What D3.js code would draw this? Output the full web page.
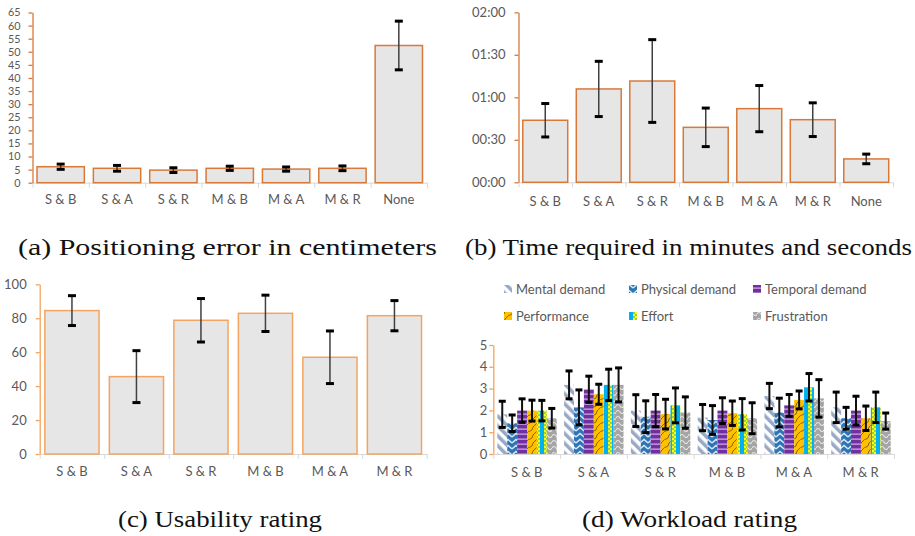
<!DOCTYPE html>
<html>
<head>
<meta charset="utf-8">
<script src="https://cdnjs.cloudflare.com/ajax/libs/d3/7.8.5/d3.min.js"></script>
<style>
  body { margin: 0; background: #fff; }
  text { font-family: Lato, "Liberation Sans", sans-serif; fill: #595959; }
  .caption { font-family: "Liberation Serif", serif; fill: #111; }
</style>
</head>
<body>
<svg id="fig" width="915" height="536"></svg>
<script>

// categories
var groups = ["S & B", "S & A", "S & R", "M & B", "M & A", "M & R", "None"];
var groupsSix = ["S & B", "S & A", "S & R", "M & B", "M & A", "M & R"];

// (a) positioning error in cm
var errorMean = [6.1, 5.5, 4.8, 5.5, 5.2, 5.5, 52.4];
var errorSd = [1.0, 1.1, 0.9, 0.8, 0.8, 0.9, 9.3];
var errorTicks = [0, 5, 10, 15, 20, 25, 30, 35, 40, 45, 50, 55, 60, 65];

// (b) time required in seconds
var timeMean = [43.8, 65.9, 71.5, 38.8, 52.0, 44.2, 16.5];
var timeSd = [11.8, 19.5, 29.2, 13.6, 16.3, 11.9, 3.4];
var timeTicks = [0, 30, 60, 90, 120];

// (c) usability rating
var usabMean = [84.5, 45.6, 78.8, 82.9, 57.0, 81.5];
var usabSd = [8.8, 15.3, 12.8, 10.7, 15.5, 8.9];
var usabTicks = [0, 20, 40, 60, 80, 100];

// (d) workload rating
var workloadSeries = ["Mental demand", "Physical demand", "Temporal demand", "Performance", "Effort", "Frustration"];
var mentalMean = [1.82, 3.17, 1.99, 1.67, 2.66, 2.14];
var mentalSd = [0.60, 0.64, 0.73, 0.60, 0.58, 0.70];
var physicalMean = [1.41, 2.14, 1.71, 1.56, 1.90, 1.64];
var physicalSd = [0.38, 0.80, 0.73, 0.66, 0.66, 0.50];
var temporalMean = [1.99, 2.97, 1.99, 1.99, 2.23, 1.99];
var temporalSd = [0.54, 0.60, 0.74, 0.59, 0.50, 0.66];
var performanceMean = [1.99, 2.74, 1.83, 1.87, 2.48, 1.64];
var performanceSd = [0.48, 0.46, 0.68, 0.56, 0.41, 0.56];
var effortMean = [1.99, 3.17, 2.23, 1.82, 3.06, 2.14];
var effortSd = [0.47, 0.72, 0.80, 0.72, 0.63, 0.70];
var frustrationMean = [1.64, 3.17, 1.90, 1.64, 2.55, 1.51];
var frustrationSd = [0.45, 0.78, 0.72, 0.71, 0.86, 0.37];
var workloadTicks = [0, 1, 2, 3, 4, 5];

var svg = d3.select("#fig");
var defs = svg.append("defs");

// hatch patterns for the workload bars
function makePatterns() {
  var p;

  p = defs.append("pattern").attr("id", "pat0").attr("patternUnits", "userSpaceOnUse")
    .attr("width", 7).attr("height", 7).attr("patternTransform", "rotate(-45)");
  p.append("rect").attr("width", 7).attr("height", 7).attr("fill", "#fff");
  p.append("rect").attr("width", 3.5).attr("height", 7).attr("fill", "#97a9c6");

  p = defs.append("pattern").attr("id", "pat1").attr("patternUnits", "userSpaceOnUse")
    .attr("width", 8).attr("height", 6);
  p.append("rect").attr("width", 8).attr("height", 6).attr("fill", "#2e75b6");
  p.append("path").attr("d", "M0,5 L4,1.5 L8,5").attr("fill", "none")
    .attr("stroke", "#dce9f7").attr("stroke-width", 1.4);

  p = defs.append("pattern").attr("id", "pat2").attr("patternUnits", "userSpaceOnUse")
    .attr("width", 8).attr("height", 5);
  p.append("rect").attr("width", 8).attr("height", 5).attr("fill", "#7030a0");
  p.append("rect").attr("y", 3.6).attr("width", 8).attr("height", 1).attr("fill", "#e8c9f5");

  p = defs.append("pattern").attr("id", "pat3").attr("patternUnits", "userSpaceOnUse")
    .attr("width", 8).attr("height", 8);
  p.append("rect").attr("width", 8).attr("height", 8).attr("fill", "#ffc000");
  p.append("path").attr("d", "M0,8 L4,6 L5,3 L8,0").attr("fill", "none")
    .attr("stroke", "#7f6000").attr("stroke-width", 0.9);

  p = defs.append("pattern").attr("id", "pat4").attr("patternUnits", "userSpaceOnUse")
    .attr("width", 8).attr("height", 4);
  p.append("rect").attr("width", 8).attr("height", 4).attr("fill", "#00b0f0");
  p.append("rect").attr("width", 4).attr("height", 4).attr("fill", "#ffff00");
  p.append("rect").attr("width", 2).attr("height", 2).attr("fill", "#92d050");
  p.append("rect").attr("x", 2).attr("y", 2).attr("width", 2).attr("height", 2).attr("fill", "#92d050");

  p = defs.append("pattern").attr("id", "pat5").attr("patternUnits", "userSpaceOnUse")
    .attr("width", 8).attr("height", 6);
  p.append("rect").attr("width", 8).attr("height", 6).attr("fill", "#a5a5a5");
  p.append("path").attr("d", "M0,4 Q2,1 4,4 T8,4").attr("fill", "none")
    .attr("stroke", "#e6e6e6").attr("stroke-width", 1.1);
}
makePatterns();

// draw axes for one panel, returns the scales
function drawAxes(box, cats, yMax, ticks, fmt, axisColor, labelGap, catPad, ySize) {
  var yScale = d3.scaleLinear().domain([0, yMax]).range([box.bottom, box.top]);
  var xScale = d3.scaleBand().domain(cats).range([box.left, box.right])
    .paddingInner(0.16).paddingOuter(0.08);
  var xEdges = d3.scaleLinear().domain([0, cats.length]).range([box.left, box.right]);

  // x axis: grey line, ticks between categories
  var xg = svg.append("g")
    .attr("transform", "translate(0," + box.bottom + ")")
    .call(d3.axisBottom(xEdges).tickValues(d3.range(cats.length + 1)).tickFormat("").tickSize(5).tickSizeOuter(0));
  xg.select(".domain").attr("stroke", "#d9d9d9");
  xg.selectAll(".tick line").attr("stroke", "#d9d9d9");

  var xl = svg.append("g")
    .attr("transform", "translate(0," + box.bottom + ")")
    .call(d3.axisBottom(xScale).tickSize(0).tickPadding(catPad));
  xl.select(".domain").remove();
  xl.selectAll("text").attr("font-size", 13).attr("font-family", "Lato").attr("fill", "#595959");

  // y axis in orange
  var yg = svg.append("g")
    .attr("transform", "translate(" + box.left + ",0)")
    .call(d3.axisLeft(yScale).tickValues(ticks).tickFormat(fmt).tickSize(4).tickSizeOuter(0).tickPadding(labelGap));
  yg.select(".domain").attr("stroke", axisColor).attr("stroke-width", 1.3);
  yg.selectAll(".tick line").attr("stroke", axisColor).attr("stroke-width", 1.3);
  yg.selectAll("text").attr("font-size", ySize || 13).attr("font-family", "Lato").attr("fill", "#595959");

  return {x: xScale, y: yScale};
}

// error bar: thin stem and thick black caps
function drawErrors(g, xs, ys, means, sds, capHalf, stemColor, stemWidth) {
  var eb = g.selectAll(".eb").data(means).enter().append("g").attr("class", "eb");
  eb.append("line")
    .attr("x1", function(d, i) { return xs(i); })
    .attr("x2", function(d, i) { return xs(i); })
    .attr("y1", function(d, i) { return ys(d - sds[i]); })
    .attr("y2", function(d, i) { return ys(d + sds[i]); })
    .attr("stroke", stemColor).attr("stroke-width", stemWidth);
  [1, -1].forEach(function(s) {
    eb.append("line")
      .attr("x1", function(d, i) { return xs(i) - capHalf; })
      .attr("x2", function(d, i) { return xs(i) + capHalf; })
      .attr("y1", function(d, i) { return ys(d + s * sds[i]); })
      .attr("y2", function(d, i) { return ys(d + s * sds[i]); })
      .attr("stroke", "#000").attr("stroke-width", 3);
  });
}

function drawSimplePanel(box, cats, means, sds, yMax, ticks, fmt, color, labelGap, catPad, ySize) {
  var sc = drawAxes(box, cats, yMax, ticks, fmt, color, labelGap, catPad, ySize);
  var g = svg.append("g");
  g.selectAll("rect").data(means).enter().append("rect")
    .attr("x", function(d, i) { return sc.x(cats[i]); })
    .attr("width", sc.x.bandwidth())
    .attr("y", function(d) { return sc.y(d); })
    .attr("height", function(d) { return box.bottom - sc.y(d); })
    .attr("fill", "#e7e6e6")
    .attr("stroke", color).attr("stroke-width", 1.5);
  drawErrors(g, function(i) { return sc.x(cats[i]) + sc.x.bandwidth() / 2; }, sc.y,
    means, sds, 4, "#404040", 1.5);
}

// (a)
drawSimplePanel({left: 32.5, right: 427, top: 12.5, bottom: 182.7}, groups, errorMean, errorSd,
  65, errorTicks, d3.format("d"), "#d8793a", 8, 12, 10.8);

// (b)
function fmtTime(s) {
  var m = Math.floor(s / 60), r = s % 60;
  return (m < 10 ? "0" : "") + m + ":" + (r < 10 ? "0" : "") + r;
}
drawSimplePanel({left: 518.5, right: 893, top: 12.3, bottom: 182.3}, groups, timeMean, timeSd,
  120, timeTicks, fmtTime, "#d8793a", 9, 14);

// (c)
drawSimplePanel({left: 39.7, right: 426.7, top: 284.3, bottom: 454}, groupsSix, usabMean, usabSd,
  100, usabTicks, d3.format("d"), "#f4a460", 9, 13);

// (d) grouped bars with patterns
var wlMeans = [mentalMean, physicalMean, temporalMean, performanceMean, effortMean, frustrationMean];
var wlSds = [mentalSd, physicalSd, temporalSd, performanceSd, effortSd, frustrationSd];
var boxD = {left: 493.3, right: 894, top: 345, bottom: 454};
var scD = drawAxes(boxD, groupsSix, 5, workloadTicks, d3.format("d"), "#f4a460", 2, 14);
var step = (boxD.right - boxD.left) / groupsSix.length;
var inner = d3.scaleBand().domain(workloadSeries).range([0, step * 0.89]);

workloadSeries.forEach(function(name, k) {
  var g = svg.append("g");
  var xs = function(i) { return boxD.left + step * i + step * 0.06 + inner(name) + inner.bandwidth() / 2; };
  g.selectAll("rect").data(wlMeans[k]).enter().append("rect")
    .attr("x", function(d, i) { return xs(i) - inner.bandwidth() / 2; })
    .attr("width", inner.bandwidth())
    .attr("y", function(d) { return scD.y(d); })
    .attr("height", function(d) { return boxD.bottom - scD.y(d); })
    .attr("fill", "url(#pat" + k + ")");
  drawErrors(g, xs, scD.y, wlMeans[k], wlSds[k], 3.5, "#111", 2);
});

// legend for (d)
var legX = [508, 633, 757];
var legY = [289, 316];
var leg = svg.append("g").selectAll("g").data(workloadSeries).enter().append("g")
  .attr("transform", function(d, i) { return "translate(" + legX[i % 3] + "," + legY[Math.floor(i / 3)] + ")"; });
leg.append("rect").attr("x", -4).attr("y", -4).attr("width", 8).attr("height", 8)
  .attr("fill", function(d, i) { return "url(#pat" + i + ")"; });
leg.append("text").attr("x", 8).attr("dy", "0.35em").attr("font-size", 13)
  .text(function(d) { return d; });

// sub captions
var caps = [
  {t: "(a) Positioning error in centimeters", x: 18, y: 255, w: 419},
  {t: "(b) Time required in minutes and seconds", x: 465, y: 255, w: 447},
  {t: "(c) Usability rating", x: 118, y: 527, w: 204},
  {t: "(d) Workload rating", x: 582, y: 527, w: 215}
];
svg.selectAll(".caption").data(caps).enter().append("text")
  .attr("class", "caption")
  .attr("x", function(d) { return d.x; })
  .attr("y", function(d) { return d.y; })
  .attr("font-size", 23)
  .attr("textLength", function(d) { return d.w; })
  .attr("lengthAdjust", "spacingAndGlyphs")
  .text(function(d) { return d.t; });

</script>
</body>
</html>
